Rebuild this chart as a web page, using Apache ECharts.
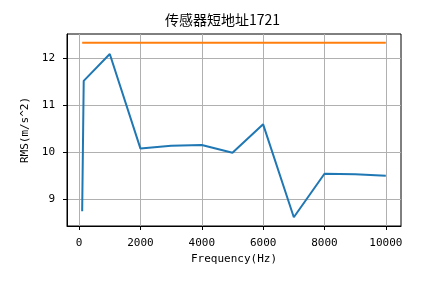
<!DOCTYPE html>
<html>
<head>
<meta charset="utf-8">
<script src="https://cdn.jsdelivr.net/npm/echarts@6/dist/echarts.min.js"></script>
<style>
html,body{margin:0;padding:0;background:#fff;}
#c{width:445px;height:283px;}
</style>
</head>
<body>
<div id="c"></div>
<script>
const titleText = '传感器短地址1721';
const xName = 'Frequency(Hz)';
const yName = 'RMS(m/s^2)';
const frequencies = [100, 150, 1000, 2000, 3000, 4000, 5000, 6000, 7000, 8000, 9000, 10000];
const rmsValues = [8.75, 11.52, 12.09, 10.08, 10.14, 10.155, 9.99, 10.595, 8.62, 9.545, 9.535, 9.50];
const thresholdValue = 12.33;
const xTicks = [0, 2000, 4000, 6000, 8000, 10000];
const yTicks = [9, 10, 11, 12];

const rmsData = frequencies.map((f, i) => [f, rmsValues[i]]);
const thresholdData = [[frequencies[0], thresholdValue], [frequencies[frequencies.length - 1], thresholdValue]];

// matplotlib-like 5% margins
const xMinD = Math.min(...frequencies), xMaxD = Math.max(...frequencies);
const allY = rmsValues.concat([thresholdValue]);
const yMinD = Math.min(...allY), yMaxD = Math.max(...allY);
const xPad = (xMaxD - xMinD) * 0.05, yPad = (yMaxD - yMinD) * 0.05;

const monoFont = 'DejaVu Sans Mono';
const chart = echarts.init(document.getElementById('c'), null, {renderer: 'canvas'});
chart.setOption({
  animation: false,
  backgroundColor: '#fff',
  title: {
    text: titleText,
    left: 'center',
    top: 8,
    padding: [5, 0, 5, 23],
    textStyle: {fontFamily: 'Noto Sans CJK SC', fontSize: 14, fontWeight: 'normal', color: '#000'}
  },
  grid: {left: 67, right: 44, top: 34, bottom: 57, show: true, borderColor: '#000', borderWidth: 1, backgroundColor: 'transparent'},
  xAxis: {
    type: 'value',
    min: xMinD - xPad,
    max: xMaxD + xPad,
    name: xName,
    nameLocation: 'middle',
    nameGap: 27,
    nameTextStyle: {fontFamily: monoFont, fontSize: 11, color: '#000'},
    axisLine: {show: true, onZero: false, lineStyle: {color: '#000', width: 1}},
    axisTick: {show: true, inside: false, length: 4, lineStyle: {color: '#000'}, customValues: xTicks},
    axisLabel: {margin: 12, fontFamily: monoFont, fontSize: 11, color: '#000', customValues: xTicks, formatter: v => String(v)},
    splitLine: {show: true, lineStyle: {color: '#b0b0b0', width: 1}}
  },
  yAxis: {
    type: 'value',
    min: yMinD - yPad,
    max: yMaxD + yPad,
    name: yName,
    nameLocation: 'middle',
    nameGap: 31,
    nameTextStyle: {fontFamily: monoFont, fontSize: 11, color: '#000'},
    axisLine: {show: true, onZero: false, lineStyle: {color: '#000', width: 1}},
    axisTick: {show: true, inside: false, length: 4, lineStyle: {color: '#000'}, customValues: yTicks},
    axisLabel: {margin: 12, fontFamily: monoFont, fontSize: 11, color: '#000', customValues: yTicks, formatter: v => String(v)},
    splitLine: {show: true, lineStyle: {color: '#b0b0b0', width: 1}}
  },
  series: [
    {type: 'line', data: rmsData, showSymbol: false, symbol: 'none', lineStyle: {color: '#1f77b4', width: 2}, itemStyle: {color: '#1f77b4'}, z: 3},
    {type: 'line', data: thresholdData, showSymbol: false, symbol: 'none', lineStyle: {color: '#ff7f0e', width: 2}, itemStyle: {color: '#ff7f0e'}, z: 4}
  ]
});
</script>
</body>
</html>
